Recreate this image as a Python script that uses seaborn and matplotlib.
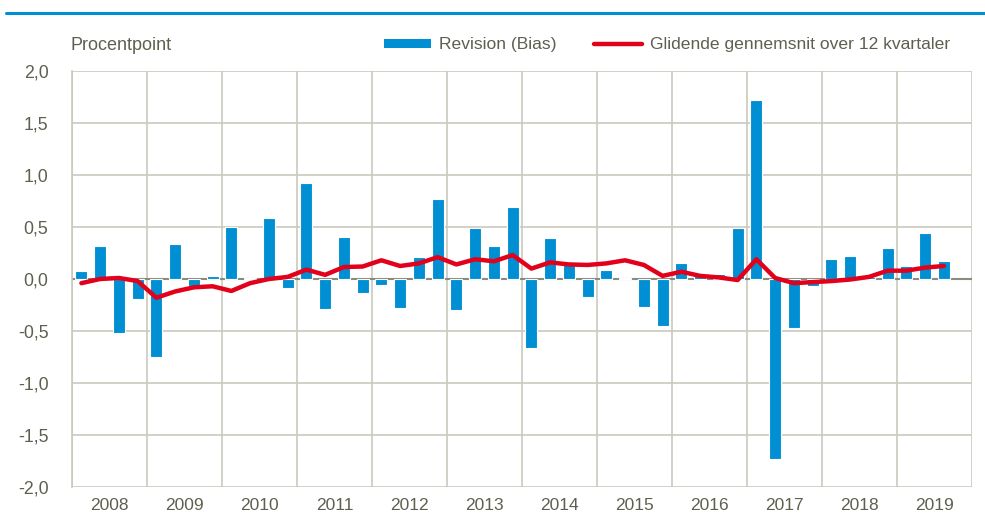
import numpy as np
import pandas as pd
import matplotlib
matplotlib.use("Agg")
import matplotlib.pyplot as plt
import seaborn as sns
from matplotlib.lines import Line2D
from matplotlib.patches import Patch

years = [str(y) for y in range(2008, 2020)]
quarters = [f"{y}Q{q}" for y in range(2008, 2020) for q in range(1, 5)][:47]

revision = [0.08, 0.32, -0.52, -0.19,
            -0.75, 0.34, -0.07, 0.03,
            0.50, 0.01, 0.59, -0.09,
            0.92, -0.29, 0.40, -0.13,
            -0.06, -0.28, 0.21, 0.77,
            -0.30, 0.49, 0.32, 0.69,
            -0.66, 0.39, 0.16, -0.17,
            0.09, 0.01, -0.27, -0.45,
            0.15, 0.04, 0.05, 0.49,
            1.72, -1.73, -0.47, -0.07,
            0.19, 0.22, 0.02, 0.30,
            0.125, 0.44, 0.17]

moving_avg = [-0.04, 0.00, 0.01, -0.02,
              -0.18, -0.12, -0.08, -0.07,
              -0.115, -0.04, 0.00, 0.02,
              0.09, 0.04, 0.115, 0.12,
              0.18, 0.125, 0.15, 0.21,
              0.14, 0.19, 0.17, 0.23,
              0.10, 0.16, 0.14, 0.135,
              0.15, 0.18, 0.135, 0.03,
              0.07, 0.03, 0.015, -0.01,
              0.19, 0.01, -0.04, -0.03,
              -0.02, -0.005, 0.02, 0.08,
              0.08, 0.11, 0.125]

ytick_vals = [-2.0, -1.5, -1.0, -0.5, 0.0, 0.5, 1.0, 1.5, 2.0]
ytick_labels = ["-2,0", "-1,5", "-1,0", "-0,5", "0,0", "0,5", "1,0", "1,5", "2,0"]

df = pd.DataFrame({"idx": np.arange(len(quarters)), "quarter": quarters,
                   "revision": revision, "ma": moving_avg})

sns.set_style("white")
plt.rcParams["font.family"] = ["Liberation Sans", "DejaVu Sans"]

BLUE = "#008fd3"
RED = "#e2001a"
TXT = "#5f5f50"
GRID = "#c9c9bf"

fig = plt.figure(figsize=(9.85, 5.15), dpi=100)
ax = fig.add_axes([72 / 985, 28 / 515, 900 / 985, 416 / 515])

sns.barplot(data=df, x="idx", y="revision", native_scale=True, color=BLUE,
            saturation=1, width=0.64, edgecolor="white", linewidth=0.8,
            ax=ax, zorder=3)
sns.lineplot(data=df, x="idx", y="ma", color=RED, linewidth=3.2, ax=ax,
             zorder=4, solid_capstyle="round")

ax.set_xlim(-0.5, 47.5)
ax.set_ylim(-2.0, 2.0)

ax.set_xticks([-0.5 + 4 * k for k in range(13)])
ax.set_xticklabels([])
ax.set_xticks([1.5 + 4 * k for k in range(12)], minor=True)
ax.set_xticklabels(years, minor=True)
ax.tick_params(axis="x", which="both", length=0, colors=TXT, labelsize=12.5, pad=8)
ax.grid(axis="x", which="major", color=GRID, linewidth=1.2, zorder=0)

ax.set_yticks(ytick_vals)
ax.set_yticklabels(ytick_labels)
ax.tick_params(axis="y", length=3, color=GRID, colors=TXT, labelsize=12.8, pad=14)
ax.grid(axis="y", color=GRID, linewidth=1.2, zorder=0)
ax.axhline(0, color="#8a8a7e", linewidth=1.5, zorder=2)

for s in ["top", "right", "bottom"]:
    ax.spines[s].set_visible(False)
ax.spines["left"].set_color(GRID)
ax.spines["left"].set_linewidth(1.2)
ax.set_xlabel("")
ax.set_ylabel("")

fig.text(70 / 985, 1 - 45 / 515, "Procentpoint", color=TXT, fontsize=13,
         va="center", ha="left")

handles = [Patch(facecolor=BLUE, edgecolor="none"),
           Line2D([0], [0], color=RED, linewidth=3.2, solid_capstyle="round")]
leg = fig.legend(handles, ["Revision (Bias)", "Glidende gennemsnit over 12 kvartaler"],
                 loc="center left", bbox_to_anchor=(384 / 985, 1 - 45 / 515),
                 ncol=2, frameon=False, fontsize=12.6, handlelength=2.7,
                 handleheight=0.45, columnspacing=2.15, handletextpad=0.45,
                 borderpad=0, borderaxespad=0, labelcolor=TXT)

fig.add_artist(Line2D([6 / 985, 1.0], [1 - 13 / 515, 1 - 13 / 515],
                      color=BLUE, linewidth=2.2, transform=fig.transFigure))

fig.savefig("out.png", dpi=100)
